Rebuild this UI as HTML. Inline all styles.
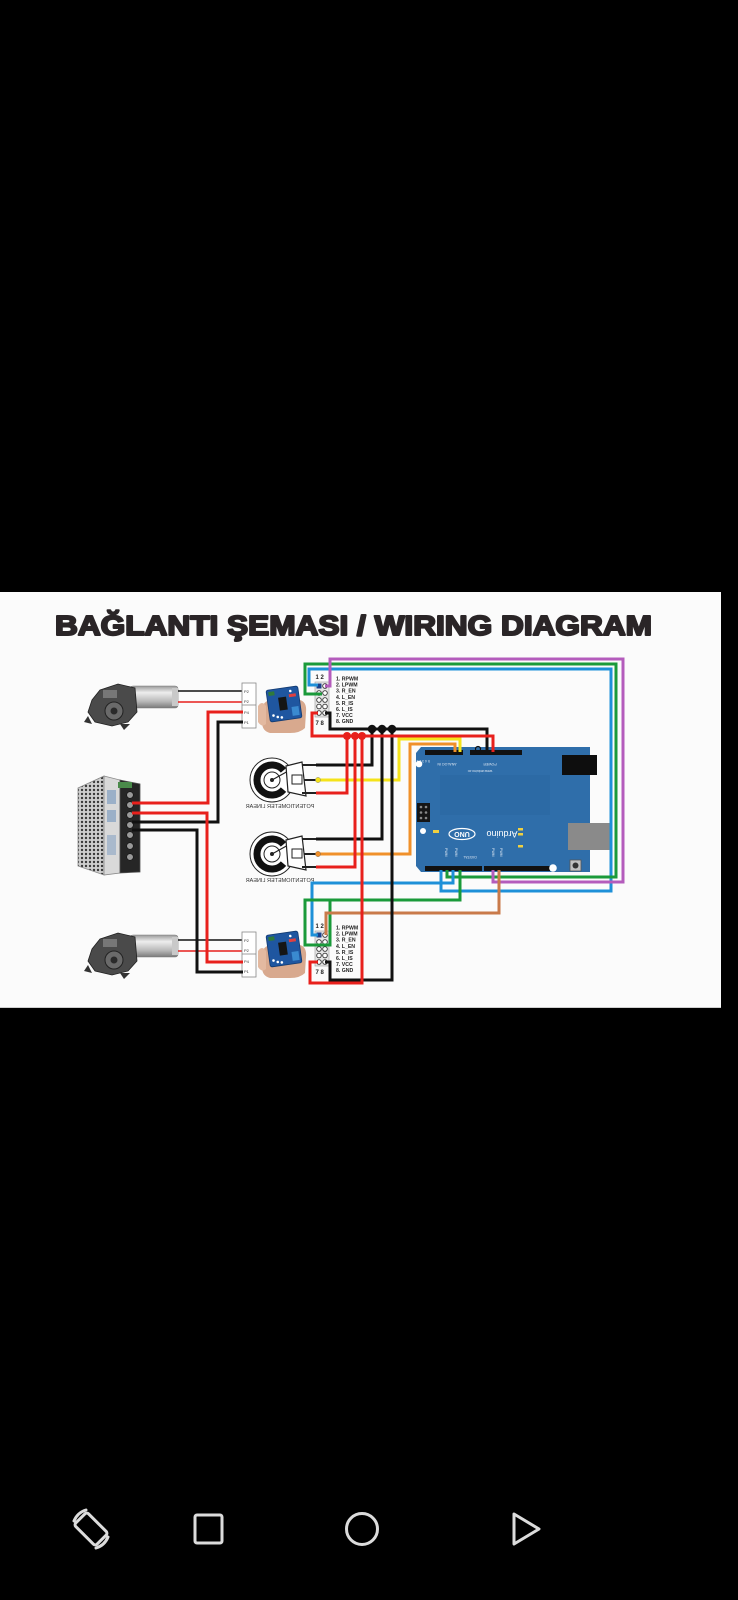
<!DOCTYPE html>
<html><head><meta charset="utf-8"><title>Wiring Diagram</title>
<style>
html,body{margin:0;padding:0;background:#000;width:738px;height:1600px;overflow:hidden}
svg{display:block}
</style></head><body>
<svg width="738" height="1600" viewBox="0 0 738 1600" xmlns="http://www.w3.org/2000/svg">
<defs>
  <pattern id="mesh" width="4" height="4" patternUnits="userSpaceOnUse">
    <rect width="4" height="4" fill="#cfcfcf"/>
    <circle cx="2" cy="2" r="1.2" fill="#3a3a3a"/>
  </pattern>
  <linearGradient id="cyl" x1="0" y1="0" x2="0" y2="1">
    <stop offset="0" stop-color="#9a9a9a"/>
    <stop offset="0.3" stop-color="#eeeeee"/>
    <stop offset="0.7" stop-color="#b8b8b8"/>
    <stop offset="1" stop-color="#7a7a7a"/>
  </linearGradient>
  <g id="motor">
    <rect x="130" y="686" width="48" height="22" rx="3" fill="url(#cyl)" stroke="#777" stroke-width="0.6"/>
    <rect x="172" y="688" width="6" height="18" fill="#c9c9c9"/>
    <path d="M100,690 L118,684 L135,688 L137,712 L128,722 L112,726 L95,722 L88,712 L92,700 Z" fill="#4a4a4a" stroke="#222" stroke-width="0.8"/>
    <path d="M88,716 L84,722 L92,724 Z" fill="#333"/>
    <path d="M120,724 L124,730 L130,724 Z" fill="#333"/>
    <circle cx="114" cy="711" r="9" fill="#6a6a6a" stroke="#222" stroke-width="1"/>
    <circle cx="114" cy="711" r="3.5" fill="#2a2a2a"/>
    <rect x="103" y="690" width="14" height="8" fill="#777"/>
  </g>
  <g id="conn">
    <rect x="242" y="683" width="14" height="45" fill="#fff" stroke="#888" stroke-width="0.8"/>
    <line x1="242" y1="705" x2="256" y2="705" stroke="#888" stroke-width="0.8"/>
    <text x="244" y="693" font-family="Liberation Sans" font-size="4" fill="#333">P2</text>
    <text x="244" y="703" font-family="Liberation Sans" font-size="4" fill="#333">P2</text>
    <text x="244" y="714" font-family="Liberation Sans" font-size="4" fill="#333">P4</text>
    <text x="244" y="724" font-family="Liberation Sans" font-size="4" fill="#333">P1</text>
  </g>
  <g id="module">
    <path d="M262,712 Q262,700 272,700 L300,700 Q307,702 306,712 L305,728 Q300,733 290,733 L270,733 Q262,731 262,722 Z" fill="#d8a98e"/>
    <path d="M258,706 Q262,700 266,706 L266,724 Q262,728 258,722 Z" fill="#e3b9a0"/>
    <g transform="rotate(-8 284 704)">
      <rect x="268" y="688" width="32" height="32" rx="2" fill="#1f56a0" stroke="#123a70" stroke-width="0.8"/>
      <rect x="279" y="697" width="8" height="13" fill="#151515"/>
      <rect x="270" y="690" width="6" height="4" fill="#2f7a3a"/>
      <rect x="291" y="708" width="7" height="9" fill="#3a8ad0"/>
      <circle cx="272" cy="714" r="1.3" fill="#fff"/><circle cx="276" cy="716" r="1.3" fill="#fff"/>
      <circle cx="280" cy="717" r="1.3" fill="#fff"/><circle cx="292" cy="692" r="1.3" fill="#fff"/>
      <rect x="290" y="695" width="7" height="3" fill="#e04040"/>
    </g>
  </g>
  <g id="header">
    <text x="315.5" y="679" font-family="Liberation Sans" font-weight="bold" font-size="6" fill="#222">1 2</text>
    <rect x="315" y="682" width="14" height="35" fill="#e6e6e6" stroke="#999" stroke-width="0.6"/>
    <rect x="316.5" y="683.5" width="5" height="5" fill="#1a3f8a"/>
    <g fill="#fff" stroke="#333" stroke-width="0.9">
      <circle cx="325" cy="686" r="2.3"/>
      <circle cx="319" cy="693" r="2.3"/><circle cx="325" cy="693" r="2.3"/>
      <circle cx="319" cy="700" r="2.3"/><circle cx="325" cy="700" r="2.3"/>
      <circle cx="319" cy="706.5" r="2.3"/><circle cx="325" cy="706.5" r="2.3"/>
      <circle cx="319" cy="713" r="2.3"/><circle cx="325" cy="713" r="2.3"/>
    </g>
    <text x="315.5" y="725" font-family="Liberation Sans" font-weight="bold" font-size="6" fill="#222">7 8</text>
    <g font-family="Liberation Sans" font-weight="bold" font-size="5.2" fill="#222">
      <text x="336" y="680.5">1. RPWM</text>
      <text x="336" y="686.6">2. LPWM</text>
      <text x="336" y="692.7">3. R_EN</text>
      <text x="336" y="698.8">4. L_EN</text>
      <text x="336" y="704.9">5. R_IS</text>
      <text x="336" y="711">6. L_IS</text>
      <text x="336" y="717.1">7. VCC</text>
      <text x="336" y="723.2">8. GND</text>
    </g>
  </g>
  <g id="pot">
    <circle cx="0" cy="0" r="22" fill="#fff" stroke="#222" stroke-width="1"/>
    <path d="M11.5,-9.6 A15,15 0 1 0 11.5,9.6" fill="none" stroke="#111" stroke-width="7"/>
    <circle cx="0" cy="0" r="8" fill="#fff" stroke="#222" stroke-width="1"/>
    <circle cx="0" cy="0" r="2" fill="#222"/>
    <line x1="0" y1="0" x2="18" y2="-10" stroke="#222" stroke-width="1.2"/>
    <path d="M14,-14 L30,-18 L34,16 L16,12 Z" fill="#fff" stroke="#222" stroke-width="1.2"/>
    <line x1="30" y1="-15" x2="44" y2="-15" stroke="#222" stroke-width="2"/>
    <line x1="32" y1="0" x2="44" y2="0" stroke="#222" stroke-width="2"/>
    <line x1="30" y1="13" x2="44" y2="13" stroke="#222" stroke-width="2"/>
    <rect x="20" y="-5" width="10" height="9" fill="#fff" stroke="#222" stroke-width="1"/>
  </g>
</defs>

<rect width="738" height="1600" fill="#000"/>
<!-- panel -->
<rect x="0" y="592" width="721" height="416" fill="#fbfbfb"/>
<line x1="0" y1="1007.5" x2="721" y2="1007.5" stroke="#cfcfcf" stroke-width="1"/>

<!-- title -->
<text x="55" y="635" textLength="597" lengthAdjust="spacingAndGlyphs" font-family="Liberation Sans" font-weight="bold" font-size="28" fill="#2a2527" stroke="#2a2527" stroke-width="2" stroke-linejoin="round">BAĞLANTI ŞEMASI / WIRING DIAGRAM</text>

<!-- motors -->
<use href="#motor"/>
<use href="#motor" transform="translate(0,249)"/>

<!-- motor wires -->
<g fill="none" stroke-width="1.6">
  <path d="M178,691 H243" stroke="#111"/>
  <path d="M178,702 H243" stroke="#e8201c"/>
  <path d="M178,940 H243" stroke="#111"/>
  <path d="M178,951 H243" stroke="#e8201c"/>
</g>

<!-- connectors -->
<use href="#conn"/>
<use href="#conn" transform="translate(0,249)"/>

<!-- PSU -->
<polygon points="78,788 104,776 104,875 78,866" fill="url(#mesh)" stroke="#888" stroke-width="0.8"/>
<polygon points="104,776 120,780 120,873 104,875" fill="#d9d9d9" stroke="#888" stroke-width="0.8"/>
<rect x="107" y="790" width="9" height="14" fill="#9bb0c8"/>
<rect x="107" y="810" width="9" height="12" fill="#9bb0c8"/>
<rect x="107" y="835" width="9" height="20" fill="#a9b9cc"/>
<polygon points="120,780 140,784 140,872 120,873" fill="#262626" stroke="#555" stroke-width="0.8"/>
<g fill="#9a9a9a" stroke="#111" stroke-width="0.6">
  <circle cx="130" cy="795" r="3.3"/><circle cx="130" cy="805" r="3.3"/>
  <circle cx="130" cy="815" r="3.3"/><circle cx="130" cy="825" r="3.3"/>
  <circle cx="130" cy="835" r="3.3"/><circle cx="130" cy="846" r="3.3"/>
  <circle cx="130" cy="857" r="3.3"/>
</g>
<rect x="118" y="782" width="14" height="6" fill="#4a8a4a"/>

<!-- PSU wires -->
<g fill="none" stroke-width="3">
  <path d="M132,822 H218 V722 H243" stroke="#111"/>
  <path d="M132,830 H197 V972 H243" stroke="#111"/>
  <path d="M132,803 H208 V712 H243" stroke="#e8201c"/>
  <path d="M132,813 H207 V962 H243" stroke="#e8201c"/>
</g>

<!-- modules -->
<use href="#module"/>
<use href="#module" transform="translate(0,245)"/>

<!-- potentiometers -->
<use href="#pot" transform="translate(272,780)"/>
<use href="#pot" transform="translate(272,854)"/>
<text transform="translate(280,808) scale(-1,1)" text-anchor="middle" font-family="Liberation Sans" font-size="5.5" fill="#333">POTENTIOMETER LINEAR</text>
<text transform="translate(280,882) scale(-1,1)" text-anchor="middle" font-family="Liberation Sans" font-size="5.5" fill="#333">POTENTIOMETER LINEAR</text>

<!-- Arduino board -->
<path d="M421,747 H590 V872 H421 L416,866 V753 Z" fill="#2f6eaa"/>
<rect x="440" y="775" width="110" height="40" fill="#2b68a2" opacity="0.7"/>
<rect x="425" y="750" width="38" height="5" fill="#111"/>
<rect x="470" y="750" width="52" height="5" fill="#111"/>
<circle cx="478" cy="749" r="2.5" fill="none" stroke="#111" stroke-width="1.2"/>
<g fill="#dce6f2" font-family="Liberation Sans" font-size="3.5">
  <text transform="translate(447,763) rotate(180)" text-anchor="middle">ANALOG IN</text>
  <text transform="translate(490,763) rotate(180)" text-anchor="middle">POWER</text>
  <text transform="translate(480,770) rotate(180)" text-anchor="middle">www.arduino.cc</text>
  <text transform="translate(470,856) rotate(180)" text-anchor="middle">DIGITAL</text>
  <text transform="translate(430,760) rotate(180)">5 4 3 2 1 0</text>
</g>
<circle cx="419" cy="764" r="3.3" fill="#fff"/>
<rect x="562" y="755" width="35" height="20" fill="#0e0e0e"/>
<rect x="417" y="803" width="13" height="19" fill="#151515"/>
<g fill="#888">
  <circle cx="421" cy="807" r="1.3"/><circle cx="426" cy="807" r="1.3"/>
  <circle cx="421" cy="812.5" r="1.3"/><circle cx="426" cy="812.5" r="1.3"/>
  <circle cx="421" cy="818" r="1.3"/><circle cx="426" cy="818" r="1.3"/>
</g>
<circle cx="423" cy="831" r="3" fill="#fff"/>
<rect x="433" y="830" width="6" height="3" fill="#f0d040"/>
<ellipse cx="462" cy="834" rx="13" ry="5.5" fill="none" stroke="#fff" stroke-width="1.2"/>
<text transform="translate(462,832) rotate(180)" text-anchor="middle" font-family="Liberation Sans" font-weight="bold" font-size="7" fill="#fff">UNO</text>
<text transform="translate(502,831) rotate(180)" text-anchor="middle" font-family="Liberation Sans" font-size="9" fill="#fff">Arduino</text>
<g fill="#f0d040">
  <rect x="518" y="828" width="5" height="2.5"/>
  <rect x="518" y="833" width="5" height="2.5"/>
  <rect x="518" y="845" width="5" height="2.5"/>
</g>
<g fill="#dce6f2" font-family="Liberation Sans" font-size="3.5">
  <text transform="translate(445,848) rotate(90)">PWM</text>
  <text transform="translate(455,848) rotate(90)">PWM</text>
  <text transform="translate(492,848) rotate(90)">PWM</text>
  <text transform="translate(500,848) rotate(90)">PWM</text>
</g>
<rect x="425" y="866" width="57" height="5" fill="#111"/>
<rect x="484" y="866" width="66" height="5" fill="#111"/>
<circle cx="553" cy="868" r="3.8" fill="#fff"/>
<rect x="568" y="823" width="42" height="27" fill="#8a8a8a"/>
<rect x="570" y="860" width="11" height="11" fill="#c0c0c0" stroke="#555" stroke-width="0.8"/>
<circle cx="575.5" cy="865.5" r="3" fill="#333"/>

<!-- pin headers -->
<use href="#header"/>
<use href="#header" transform="translate(0,249)"/>

<!-- signal wires -->
<g fill="none" stroke-width="3" stroke-linejoin="miter">
  <path d="M318,685 H309 V669 H611 V891 H441 V870" stroke="#1e90d8"/>
  <path d="M322,694 H305 V664 H616 V877 H447 V870" stroke="#1a9a3a"/>
  <path d="M325,686 H330 V659 H623 V882 H493 V870" stroke="#b45cbc"/>
  <path d="M453,870 V883 H312 V935 H318" stroke="#1e90d8"/>
  <path d="M460,870 V900 H305 V945 H330 V900" stroke="#1a9a3a"/>
  <path d="M499,870 V913 H326 V935" stroke="#c97a4a"/>
  <path d="M318,780 H399 V739 H460 V752" stroke="#f5e31a"/>
  <path d="M318,854 H410 V744 H455 V752" stroke="#f0902a"/>
  <path d="M372,729 V765 H316" stroke="#111"/>
  <path d="M382,729 V839 H316" stroke="#111"/>
  <path d="M392,729 V980 H330 V962 H325" stroke="#111"/>
  <path d="M325,713 H330 V729 H487 V752" stroke="#111"/>
  <path d="M347,736 V793 H316" stroke="#e8201c"/>
  <path d="M355,736 V867 H316" stroke="#e8201c"/>
  <path d="M362,736 V983 H310 V962 H318" stroke="#e8201c"/>
  <path d="M318,713 H312 V736 H493 V752" stroke="#e8201c"/>
</g>
<circle cx="318" cy="780" r="2.6" fill="#f5e31a" stroke="#886" stroke-width="0.5"/>
<circle cx="318" cy="854" r="2.6" fill="#f0902a" stroke="#864" stroke-width="0.5"/>

<!-- junction dots -->
<g fill="#e8201c">
  <circle cx="347" cy="736" r="4"/><circle cx="355" cy="736" r="4"/><circle cx="362" cy="736" r="4"/>
</g>
<g fill="#111">
  <circle cx="372" cy="729" r="4.3"/><circle cx="382" cy="729" r="4.3"/><circle cx="392" cy="729" r="4.3"/>
</g>

<!-- nav bar -->
<g fill="none" stroke="#dcdcdc" stroke-width="3" stroke-linejoin="round" stroke-linecap="round">
  <g transform="rotate(-45 91 1529)">
    <rect x="82" y="1514" width="18" height="30" rx="2.5"/>
  </g>
  <path d="M74,1521 A19,19 0 0 1 86,1510"/>
  <path d="M108,1537 A19,19 0 0 1 96,1548"/>
  <rect x="195" y="1515" width="27" height="28" rx="2"/>
  <circle cx="362" cy="1529" r="15.5"/>
  <path d="M514,1514 L539,1529 L514,1544 Z"/>
</g>
</svg>
</body></html>
